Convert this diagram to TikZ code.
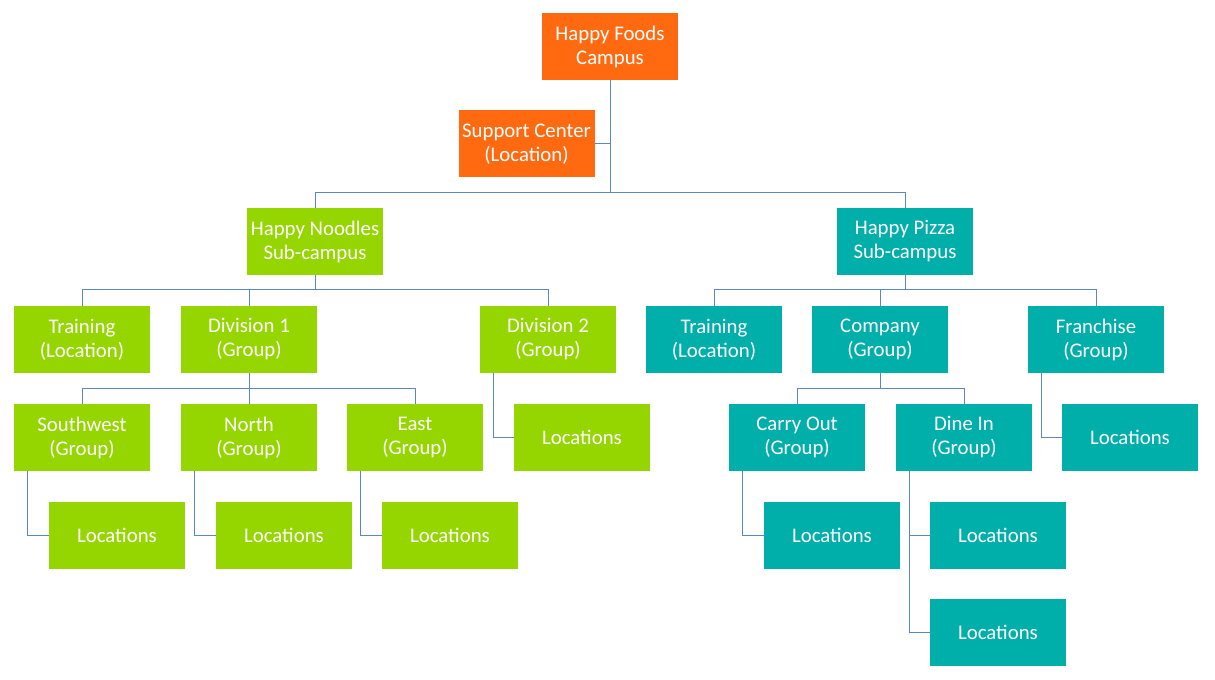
\documentclass[tikz,border=0pt]{standalone}
\usepackage{fontspec}
\setmainfont{Carlito}
\definecolor{campusorange}{HTML}{FF6A10}
\definecolor{noodlegreen}{HTML}{95D600}
\definecolor{pizzateal}{HTML}{00AEAA}
\definecolor{linkblue}{HTML}{5A88C2}
\tikzset{
  unit/.style={draw=none, text=white, align=center, minimum width=102pt, minimum height=50.25pt,
    inner sep=0pt, font=\fontsize{15.6}{18}\selectfont},
  orangeunit/.style={unit, fill=campusorange},
  greenunit/.style={unit, fill=noodlegreen},
  tealunit/.style={unit, fill=pizzateal},
  link/.style={draw=linkblue, line width=0.75pt}
}

\begin{document}
\begin{tikzpicture}[x=0.75pt, y=-0.75pt]
            \useasboundingbox (0,0) rectangle (1215,680);
            % top level
            \node[orangeunit] (campus) at (610,46.5) {Happy Foods\\Campus};
            \node[orangeunit] (support) at (526.5,144) {Support Center\\(Location)};
            \node[greenunit] (noodles) at (315,241.5) {Happy Noodles\\Sub-campus};
            \node[tealunit] (pizza) at (905,241.5) {Happy Pizza\\Sub-campus};
            % noodles branch
            \node[greenunit] (ntrain) at (82,339.5) {Training\\(Location)};
            \node[greenunit] (div1) at (249,339.5) {Division 1\\(Group)};
            \node[greenunit] (div2) at (548,339.5) {Division 2\\(Group)};
            \node[greenunit] (southwest) at (82,437.5) {Southwest\\(Group)};
            \node[greenunit] (north) at (249,437.5) {North\\(Group)};
            \node[greenunit] (east) at (415,437.5) {East\\(Group)};
            \node[greenunit] (divloc) at (582,437.5) {Locations};
            \node[greenunit] (swloc) at (117,535.5) {Locations};
            \node[greenunit] (nloc) at (284,535.5) {Locations};
            \node[greenunit] (eloc) at (450,535.5) {Locations};
            % pizza branch
            \node[tealunit] (ptrain) at (714,339.5) {Training\\(Location)};
            \node[tealunit] (company) at (880,339.5) {Company\\(Group)};
            \node[tealunit] (franchise) at (1096,339.5) {Franchise\\(Group)};
            \node[tealunit] (carryout) at (797,437.5) {Carry Out\\(Group)};
            \node[tealunit] (dinein) at (964,437.5) {Dine In\\(Group)};
            \node[tealunit] (franloc) at (1130,437.5) {Locations};
            \node[tealunit] (coloc) at (832,535.5) {Locations};
            \node[tealunit] (diloca) at (998,535.5) {Locations};
            \node[tealunit] (dilocb) at (998,632.5) {Locations};
            % bus points
            \coordinate (campusbus) at (610,193);
            \coordinate (noodlebus) at (315,290);
            \coordinate (pizzabus) at (905,290);
            \coordinate (divbus) at (249,389);
            \coordinate (companybus) at (880,389);
            \coordinate (distem) at ([xshift=10.5pt]dinein.south west);
            % connectors
            \draw[link] (campus.south) -- (campusbus);
            \draw[link] (support.east) -- (support.east -| campusbus);
            \draw[link] (noodles.north) |- (campusbus);
            \draw[link] (pizza.north) |- (campusbus);
            \draw[link] (noodles.south) -- (noodlebus);
            \draw[link] (ntrain.north) |- (noodlebus);
            \draw[link] (div1.north) |- (noodlebus);
            \draw[link] (div2.north) |- (noodlebus);
            \draw[link] (pizza.south) -- (pizzabus);
            \draw[link] (ptrain.north) |- (pizzabus);
            \draw[link] (company.north) |- (pizzabus);
            \draw[link] (franchise.north) |- (pizzabus);
            \draw[link] (div1.south) -- (divbus);
            \draw[link] (southwest.north) |- (divbus);
            \draw[link] (north.north) |- (divbus);
            \draw[link] (east.north) |- (divbus);
            \draw[link] (company.south) -- (companybus);
            \draw[link] (carryout.north) |- (companybus);
            \draw[link] (dinein.north) |- (companybus);
            \draw[link] ([xshift=10.5pt]div2.south west) |- (divloc.west);
            \draw[link] ([xshift=10.5pt]southwest.south west) |- (swloc.west);
            \draw[link] ([xshift=10.5pt]north.south west) |- (nloc.west);
            \draw[link] ([xshift=10.5pt]east.south west) |- (eloc.west);
            \draw[link] ([xshift=10.5pt]franchise.south west) |- (franloc.west);
            \draw[link] ([xshift=10.5pt]carryout.south west) |- (coloc.west);
            \draw[link] (distem) |- (dilocb.west);
            \draw[link] (diloca.west) -- (diloca.west -| distem);
        \end{tikzpicture}
\end{document}
